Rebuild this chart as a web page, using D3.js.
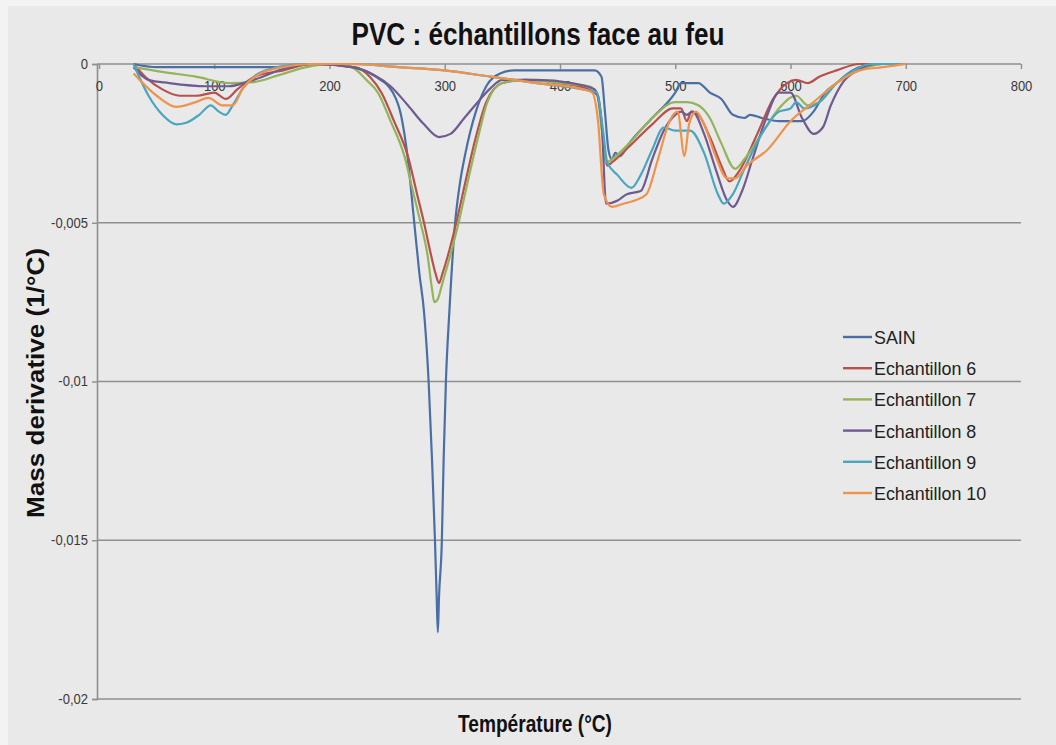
<!DOCTYPE html>
<html>
<head>
<meta charset="utf-8">
<script src="https://cdn.jsdelivr.net/npm/d3@7/dist/d3.min.js"></script>
<style>
  html, body { margin: 0; padding: 0; background: #f3f3f3; }
  svg { display: block; }
  text { font-family: "Liberation Sans", Arial, sans-serif; }
</style>
</head>
<body>
<svg id="chart" width="1056" height="745"></svg>
<script>
// Series names, in legend order
const seriesNames = ["SAIN", "Echantillon 6", "Echantillon 7", "Echantillon 8", "Echantillon 9", "Echantillon 10"];
const seriesColors = ["#4a6fa5", "#b8504b", "#94b35a", "#6f5b90", "#4aa5bf", "#f0924a"];

// Mass derivative (1/°C) versus temperature (°C): [T, value]
const sain = [[30,0],[50,-0.0001],[100,-0.0001],[150,-0.0001],[190,0],[220,-0.0001],[240,-0.0004],[255,-0.0009],[262,-0.0016],[268,-0.003],[273,-0.0048],[278,-0.0066],[282,-0.0078],[286,-0.01],[289,-0.0125],[291.5,-0.015],[293,-0.0168],[294,-0.0179],[295,-0.0168],[297.5,-0.015],[299,-0.0125],[301,-0.01],[304,-0.0078],[309,-0.005],[313,-0.0038],[318,-0.0028],[327,-0.0015],[336,-0.0007],[348,-0.0003],[360,-0.0002],[400,-0.0002],[430,-0.0002],[436,-0.0004],[439,-0.0015],[442,-0.0027],[445,-0.003],[448,-0.0028],[452,-0.0029],[460,-0.0025],[480,-0.0017],[500,-0.0009],[505,-0.0006],[520,-0.0006],[530,-0.0009],[540,-0.0011],[550,-0.0016],[560,-0.0017],[565,-0.0016],[575,-0.0017],[590,-0.0018],[610,-0.0018],[620,-0.0015],[630,-0.0009],[640,-0.0006],[650,-0.0003],[660,-0.0001],[680,0],[700,0]];
const ech6 = [[30,0],[40,-0.0004],[55,-0.0008],[70,-0.001],[85,-0.001],[100,-0.0009],[110,-0.0011],[120,-0.0008],[135,-0.0004],[160,-0.0002],[185,0],[222,-0.0001],[235,-0.0004],[245,-0.0009],[256,-0.0018],[268,-0.0029],[276,-0.0041],[282,-0.005],[288,-0.006],[292,-0.0066],[295,-0.0069],[298,-0.0066],[303,-0.006],[310,-0.005],[318,-0.0037],[327,-0.0023],[336,-0.0012],[350,-0.0006],[370,-0.0005],[400,-0.0006],[425,-0.0008],[433,-0.001],[437,-0.0022],[441,-0.0032],[445,-0.0031],[460,-0.0026],[480,-0.0019],[498,-0.0014],[505,-0.0014],[510,-0.0018],[514,-0.0015],[520,-0.0016],[530,-0.0023],[540,-0.0032],[547,-0.0037],[555,-0.0034],[570,-0.0023],[585,-0.0011],[597,-0.0006],[605,-0.0005],[615,-0.0006],[625,-0.0004],[640,-0.0002],[660,0],[700,0]];
const ech7 = [[30,-0.0001],[55,-0.00025],[84,-0.0004],[113,-0.0006],[134,-0.00057],[156,-0.00035],[180,-0.0001],[200,0],[219,-0.0001],[232,-0.0005],[242,-0.0009],[253,-0.0018],[265,-0.0029],[273,-0.0041],[279,-0.005],[285,-0.006],[289,-0.0071],[291,-0.0075],[294,-0.0074],[298,-0.0069],[305,-0.006],[312,-0.005],[320,-0.0037],[329,-0.0023],[337,-0.0012],[350,-0.0006],[370,-0.0005],[400,-0.0006],[425,-0.0007],[432,-0.0009],[436,-0.002],[440,-0.0031],[445,-0.003],[460,-0.0025],[480,-0.0017],[500,-0.0012],[510,-0.0012],[520,-0.0013],[530,-0.0017],[540,-0.0025],[552,-0.0033],[560,-0.003],[575,-0.0022],[590,-0.0014],[605,-0.001],[615,-0.0013],[625,-0.0012],[640,-0.0006],[660,-0.0002],[680,0],[700,0]];
const ech8 = [[30,-0.0001],[43,-0.0005],[61,-0.0006],[93,-0.0007],[113,-0.0007],[128,-0.00057],[142,-0.0004],[160,-0.00015],[185,0],[219,-0.0001],[239,-0.00035],[253,-0.0007],[268,-0.0013],[282,-0.0019],[295,-0.0023],[305,-0.0022],[317,-0.0017],[331,-0.0011],[340,-0.00075],[350,-0.0005],[380,-0.0005],[410,-0.0006],[430,-0.0008],[436,-0.0018],[440,-0.0044],[450,-0.0043],[458,-0.0041],[470,-0.004],[480,-0.003],[490,-0.0021],[500,-0.0016],[505,-0.0015],[510,-0.0016],[515,-0.0015],[525,-0.0022],[535,-0.0033],[545,-0.0043],[550,-0.0045],[558,-0.004],[567,-0.003],[578,-0.0018],[590,-0.0009],[600,-0.0009],[610,-0.0017],[620,-0.0022],[628,-0.002],[635,-0.0013],[645,-0.0006],[658,-0.0002],[675,0],[700,0]];
const ech9 = [[30,0],[43,-0.001],[55,-0.0016],[67,-0.0019],[75,-0.00186],[87,-0.0016],[97,-0.0013],[104,-0.0015],[110,-0.0016],[116,-0.0013],[125,-0.00076],[136,-0.00035],[155,-0.0001],[180,0],[220,0],[260,-0.0001],[300,-0.0002],[340,-0.0004],[380,-0.0006],[420,-0.0008],[432,-0.0009],[437,-0.002],[441,-0.0031],[450,-0.0035],[462,-0.0039],[470,-0.0035],[480,-0.0027],[490,-0.002],[500,-0.0021],[513,-0.0021],[525,-0.0028],[537,-0.0041],[542,-0.0044],[550,-0.0041],[560,-0.0033],[575,-0.0022],[590,-0.0015],[600,-0.0014],[605,-0.0012],[612,-0.0014],[625,-0.0012],[640,-0.0006],[655,-0.0002],[670,0],[700,0]];
const ech10 = [[30,-0.0003],[50,-0.001],[67,-0.00135],[84,-0.0012],[95,-0.00107],[107,-0.0013],[116,-0.0013],[125,-0.00076],[140,-0.0003],[160,-0.0001],[185,0],[220,0],[260,-0.0001],[300,-0.0002],[340,-0.0004],[380,-0.0006],[420,-0.0008],[428,-0.0009],[433,-0.0018],[438,-0.0041],[445,-0.0045],[455,-0.0044],[465,-0.0043],[475,-0.0041],[485,-0.003],[495,-0.0018],[502,-0.0015],[508,-0.0029],[512,-0.0019],[518,-0.0015],[525,-0.0019],[535,-0.0029],[545,-0.0036],[552,-0.0036],[562,-0.0032],[580,-0.0027],[600,-0.0018],[620,-0.0012],[640,-0.0006],[660,-0.0002],[680,-0.0001],[700,0]];

// Axis ticks and labels
const xTicks = [0, 100, 200, 300, 400, 500, 600, 700, 800];
const yTicks = [0, -0.005, -0.01, -0.015, -0.02];
const yTickLabels = ["0", "-0,005", "-0,01", "-0,015", "-0,02"];

const allSeries = [sain, ech6, ech7, ech8, ech9, ech10];

const svg = d3.select("#chart");

// squeeze text horizontally to get a condensed face
function condense(sel, factor) {
  sel.each(function () {
    const w = this.getComputedTextLength();
    d3.select(this).attr("textLength", w * factor).attr("lengthAdjust", "spacingAndGlyphs");
  });
}

// chart area background
svg.append("rect").attr("x", 8).attr("y", 6).attr("width", 1048).attr("height", 739).attr("fill", "#e9e9e9");

const x = d3.scaleLinear().domain([0, 800]).range([99, 1021]);
const y = d3.scaleLinear().domain([-0.02, 0]).range([699, 64]);

// horizontal gridlines
svg.append("g").selectAll("line").data(yTicks.slice(1)).join("line")
  .attr("x1", x(0) - 2).attr("x2", x(800))
  .attr("y1", d => y(d)).attr("y2", d => y(d))
  .attr("stroke", "#8f8f8f").attr("stroke-width", 1.6);

// y axis
const yAxis = d3.axisLeft(y).tickValues(yTicks).tickSize(5)
  .tickFormat((d, i) => yTickLabels[i]);
const gy = svg.append("g").attr("transform", `translate(${x(0) - 2},0)`).call(yAxis);
gy.select(".domain").attr("stroke", "#8f8f8f").attr("stroke-width", 1.6);
gy.selectAll(".tick line").attr("stroke", "#8f8f8f").attr("stroke-width", 1.4);
gy.selectAll(".tick text").attr("x", -9).attr("font-size", 14).attr("fill", "#3a3a3a")
  .style("font-family", "'Liberation Sans', Arial, sans-serif");
condense(gy.selectAll(".tick text"), 0.93);

// x axis along the zero line, labels below it
const xAxis = d3.axisBottom(x).tickValues(xTicks).tickSize(5).tickFormat(d3.format("d"));
const gx = svg.append("g").attr("transform", `translate(0,${y(0)})`).call(xAxis);
gx.select(".domain").attr("stroke", "#8f8f8f").attr("stroke-width", 1.6).attr("d", `M${x(0)-2},0H${x(800)}`);
gx.selectAll(".tick line").attr("stroke", "#8f8f8f").attr("stroke-width", 1.4);
gx.selectAll(".tick text").attr("y", 17).attr("font-size", 14).attr("fill", "#3a3a3a")
  .style("font-family", "'Liberation Sans', Arial, sans-serif");
condense(gx.selectAll(".tick text"), 0.93);

// series lines
const line = d3.line().x(d => x(d[0])).y(d => y(d[1])).curve(d3.curveMonotoneX);
svg.append("g").selectAll("path").data(allSeries).join("path")
  .attr("d", line)
  .attr("fill", "none")
  .attr("stroke", (d, i) => seriesColors[i])
  .attr("stroke-width", 2.2)
  .attr("stroke-linejoin", "round");

// title
svg.append("text").attr("x", 538).attr("y", 45).attr("text-anchor", "middle")
  .attr("font-size", 31).attr("font-weight", "bold").attr("fill", "#111")
  .attr("textLength", 373).attr("lengthAdjust", "spacingAndGlyphs")
  .text("PVC : échantillons face au feu");

// axis titles
svg.append("text").attr("x", 535).attr("y", 732).attr("text-anchor", "middle")
  .attr("font-size", 23).attr("font-weight", "bold").attr("fill", "#111")
  .attr("textLength", 154).attr("lengthAdjust", "spacingAndGlyphs")
  .text("Température (°C)");
svg.append("text").attr("transform", "translate(44,383) rotate(-90)").attr("text-anchor", "middle")
  .attr("font-size", 24).attr("font-weight", "bold").attr("fill", "#111")
  .attr("textLength", 270).attr("lengthAdjust", "spacingAndGlyphs")
  .text("Mass derivative (1/°C)");

// legend
const legend = svg.append("g").selectAll("g").data(seriesNames).join("g")
  .attr("transform", (d, i) => `translate(843,${337 + i * 31.2})`);
legend.append("line").attr("x1", 0).attr("x2", 29).attr("y1", 0).attr("y2", 0)
  .attr("stroke", (d, i) => seriesColors[i]).attr("stroke-width", 2.4);
const legendText = legend.append("text").attr("x", 31).attr("y", 7).attr("font-size", 19).attr("fill", "#222")
  .text(d => d);
condense(legendText, 0.94);
</script>
</body>
</html>
